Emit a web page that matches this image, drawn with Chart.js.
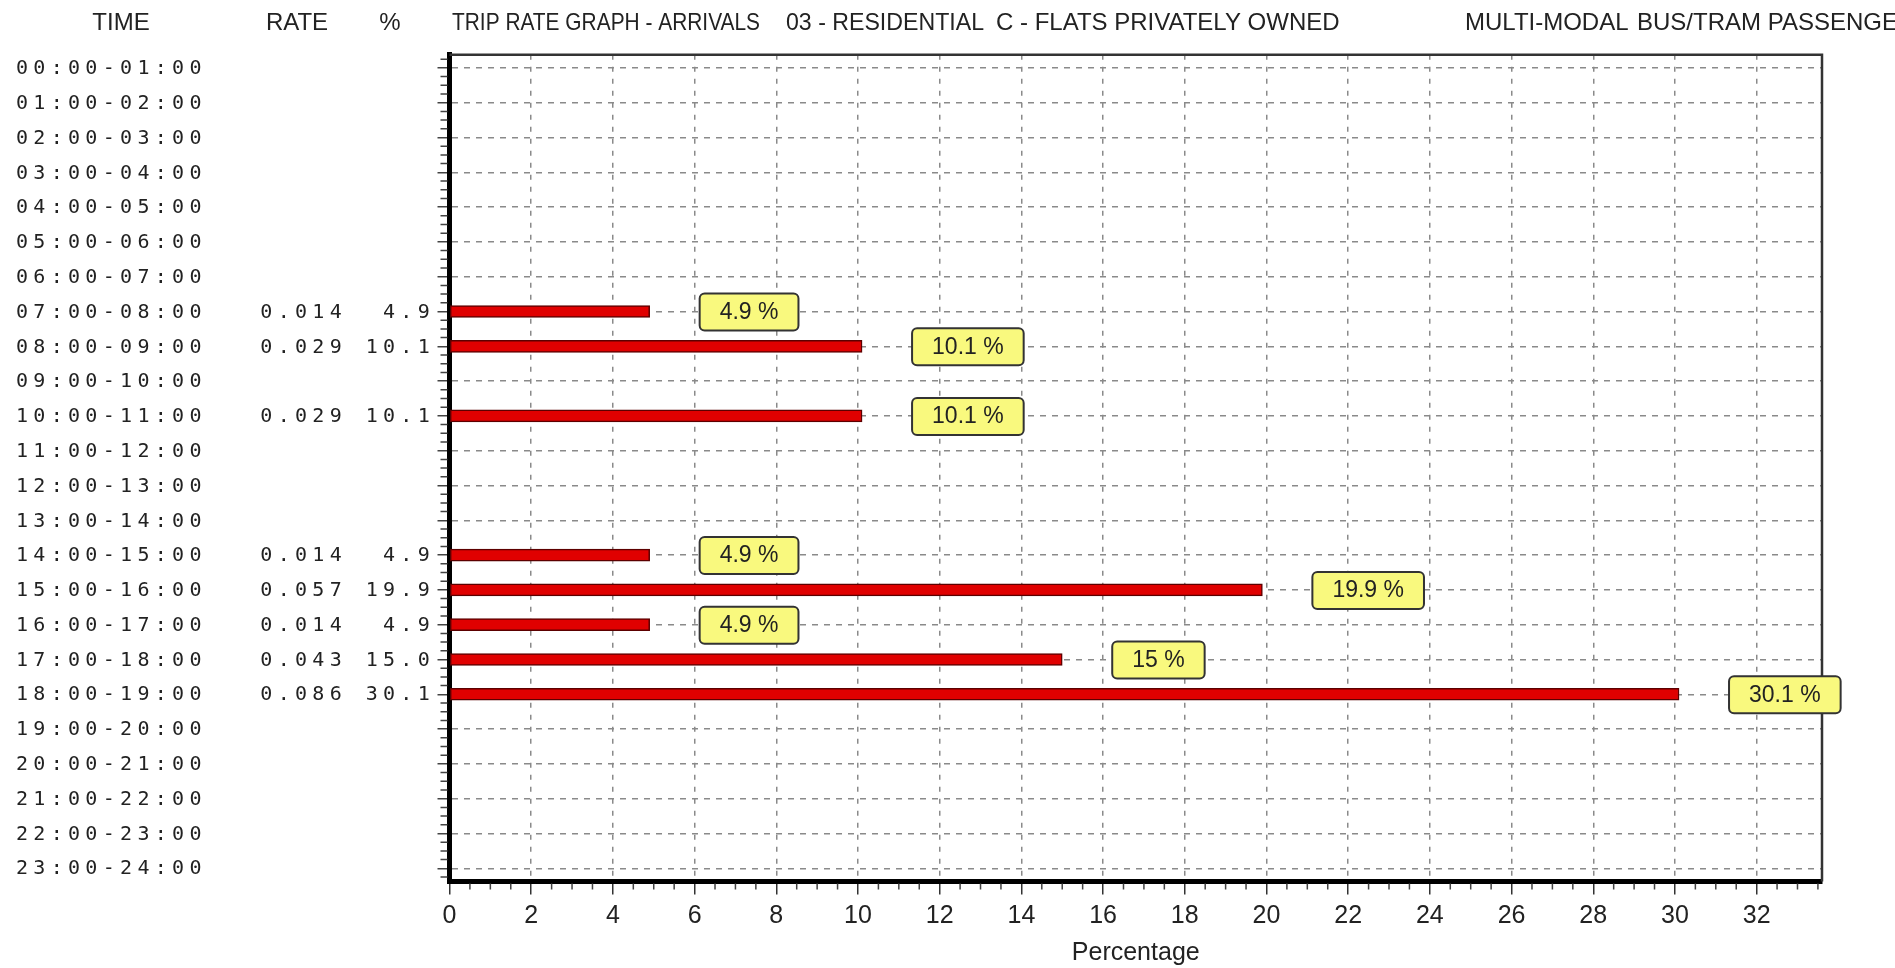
<!DOCTYPE html>
<html>
<head>
<meta charset="utf-8">
<title>Trip rate graph - arrivals</title>
<script src="https://cdn.jsdelivr.net/npm/chart.js@4.4.1/dist/chart.umd.min.js"></script>
<style>
  html, body { margin: 0; padding: 0; background: #fff; }
</style>
</head>
<body>
<canvas id="tripRateChart" width="1895" height="968"></canvas>
<script>
// hourly rows, top to bottom
const timeLabels = [
    "00:00-01:00", "01:00-02:00", "02:00-03:00", "03:00-04:00", "04:00-05:00", "05:00-06:00",
    "06:00-07:00", "07:00-08:00", "08:00-09:00", "09:00-10:00", "10:00-11:00", "11:00-12:00",
    "12:00-13:00", "13:00-14:00", "14:00-15:00", "15:00-16:00", "16:00-17:00", "17:00-18:00",
    "18:00-19:00", "19:00-20:00", "20:00-21:00", "21:00-22:00", "22:00-23:00", "23:00-24:00"
];
const rateValues = [
    null, null, null, null, null, null, null, 0.014, 0.029, null, 0.029, null,
    null, null, 0.014, 0.057, 0.014, 0.043, 0.086, null, null, null, null, null
];
const pctValues = [
    null, null, null, null, null, null, null, 4.9, 10.1, null, 10.1, null,
    null, null, 4.9, 19.9, 4.9, 15.0, 30.1, null, null, null, null, null
];
const headerLabels = ["TIME", "RATE", "%"];
const titleParts = [
    "TRIP RATE GRAPH - ARRIVALS",
    "03 - RESIDENTIAL",
    "C - FLATS PRIVATELY OWNED",
    "MULTI-MODAL",
    "BUS/TRAM PASSENGERS"
];
const xAxisTitle = "Percentage";
const xMax = 33.6;
const xStep = 2;

const sansFont = "'Liberation Sans', Arial, sans-serif";
const monoFont = "'DejaVu Sans Mono', monospace";

const barPoints = [];
pctValues.forEach((v, i) => {
    if (v !== null) barPoints.push({ x: v, y: i });
});

/*=========================================
TEXT COLUMNS, HEADER, VALUE BOXES
=========================================*/
const tablePlugin = {
    id: "tablePlugin",
    beforeDatasetsDraw(chart) {
        const { ctx, chartArea: a, scales: { x, y } } = chart;
        ctx.save();

        // top and right frame
        ctx.strokeStyle = "#333";
        ctx.lineWidth = 2.5;
        ctx.beginPath();
        ctx.moveTo(a.left, a.top);
        ctx.lineTo(a.right, a.top);
        ctx.lineTo(a.right, a.bottom);
        ctx.stroke();

        // minor ticks, left axis (quarter rows)
        ctx.strokeStyle = "#444";
        ctx.lineWidth = 1.5;
        ctx.beginPath();
        for (let q = Math.ceil(y.min * 4); q <= Math.floor(y.max * 4); q++) {
            if (q % 4 === 0) continue;
            const py = y.getPixelForValue(q / 4);
            ctx.moveTo(a.left - 9, py);
            ctx.lineTo(a.left - 2, py);
        }
        // minor ticks, bottom axis (half units)
        for (let h = 1; h <= Math.floor(x.max * 2); h++) {
            if (h % 4 === 0) continue;
            const px = x.getPixelForValue(h / 2);
            ctx.moveTo(px, a.bottom + 2);
            ctx.lineTo(px, a.bottom + 8);
        }
        ctx.stroke();
        ctx.restore();
    },
    afterDraw(chart) {
        const { ctx, scales: { y } } = chart;
        ctx.save();

        // header
        ctx.fillStyle = "#222";
        ctx.textBaseline = "middle";
        ctx.font = "24px " + sansFont;
        ctx.textAlign = "center";
        ctx.fillText(headerLabels[0], 121, 23);
        ctx.fillText(headerLabels[1], 297, 23);
        ctx.fillText(headerLabels[2], 390, 23);
        ctx.textAlign = "left";
        ctx.fillText(titleParts[0], 452, 23, 308);
        ctx.fillText(titleParts[1], 786, 23, 198);
        ctx.fillText(titleParts[2], 996, 23);
        ctx.fillText(titleParts[3], 1465, 23);
        ctx.fillText(titleParts[4], 1637, 23);

        // time / rate / % columns
        ctx.font = "20px " + monoFont;
        ctx.letterSpacing = "5.3px";
        ctx.fillStyle = "#222";
        timeLabels.forEach((t, i) => {
            const py = y.getPixelForValue(i) + 1;
            ctx.textAlign = "left";
            ctx.fillText(t, 16, py);
            if (rateValues[i] !== null) {
                ctx.textAlign = "right";
                ctx.fillText(rateValues[i].toFixed(3), 347, py);
                ctx.fillText(pctValues[i].toFixed(1), 435, py);
            }
        });
        ctx.letterSpacing = "0px";

        // yellow value boxes
        const meta = chart.getDatasetMeta(0);
        ctx.font = "23px " + sansFont;
        meta.data.forEach((bar, i) => {
            const text = barPoints[i].x + " %";
            const w = ctx.measureText(text).width + 40;
            const bx = bar.x + 50;
            const by = bar.y - 18;
            ctx.beginPath();
            ctx.roundRect(bx, by, w, 37, 5);
            ctx.fillStyle = "#f9f97e";
            ctx.fill();
            ctx.lineWidth = 2;
            ctx.strokeStyle = "#333";
            ctx.stroke();
            ctx.fillStyle = "#222";
            ctx.textAlign = "center";
            ctx.fillText(text, bx + w / 2, bar.y + 1);
        });
        ctx.restore();
    }
};

new Chart(document.getElementById("tripRateChart"), {
    type: "bar",
    data: {
        datasets: [
            {
                data: barPoints,
                backgroundColor: "#e00000",
                borderColor: "#5c0000",
                borderWidth: 1.5,
                borderSkipped: false,
                barThickness: 12
            }
        ]
    },
    options: {
        indexAxis: "y",
        responsive: false,
        animation: false,
        events: [],
        layout: {
            padding: { top: 54.7, right: 73, bottom: 0, left: 0 }
        },
        plugins: {
            legend: { display: false },
            tooltip: { enabled: false }
        },
        scales: {
            x: {
                type: "linear",
                position: "bottom",
                bounds: "data",
                min: 0,
                max: xMax,
                afterFit(scale) { scale.height = 86.5; },
                ticks: {
                    stepSize: xStep,
                    includeBounds: false,
                    autoSkip: false,
                    maxRotation: 0,
                    padding: 7,
                    color: "#222",
                    font: { family: sansFont, size: 25 }
                },
                grid: {
                    color: "#8a8a8a",
                    lineWidth: 1.5,
                    tickLength: 13,
                    tickColor: "#333",
                    tickWidth: 1.5,
                    tickBorderDash: []
                },
                border: { display: true, color: "#000", width: 5, dash: [5, 7] },
                title: {
                    display: true,
                    text: xAxisTitle,
                    color: "#222",
                    font: { family: sansFont, size: 25 },
                    padding: { top: 0, bottom: 0 }
                }
            },
            y: {
                type: "linear",
                reverse: true,
                offset: false,
                bounds: "data",
                min: -0.38,
                max: 23.38,
                afterFit(scale) { scale.width = 449.5; },
                afterBuildTicks(scale) {
                    scale.ticks = timeLabels.map((t, i) => ({ value: i }));
                },
                ticks: { display: false },
                grid: {
                    offset: false,
                    color: "#8a8a8a",
                    lineWidth: 1.5,
                    tickLength: 12,
                    tickColor: "#444",
                    tickWidth: 1.5,
                    tickBorderDash: []
                },
                border: { display: true, color: "#000", width: 5, dash: [6, 6] }
            }
        }
    },
    plugins: [tablePlugin]
});
</script>
</body>
</html>
